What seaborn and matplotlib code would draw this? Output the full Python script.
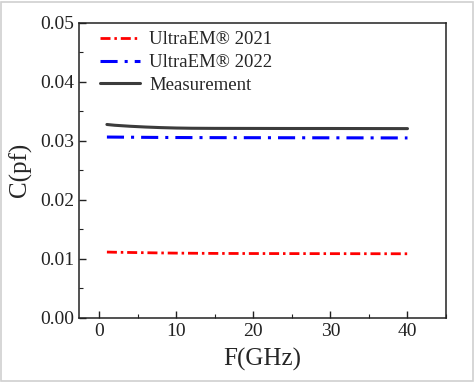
import matplotlib
matplotlib.use("Agg")
import matplotlib.pyplot as plt
from matplotlib.patches import Rectangle
from matplotlib.ticker import MultipleLocator
import pandas as pd
import seaborn as sns

# frequency points (GHz)
freq = [1, 2, 4, 6, 8, 10, 12, 15, 20, 25, 30, 35, 40]
# capacitance (pF)
ultraem_2021 = [0.01115, 0.01112, 0.01108, 0.01104, 0.01100, 0.01097, 0.01095, 0.01092,
                0.01090, 0.01089, 0.01088, 0.01087, 0.01086]
ultraem_2022 = [0.03065, 0.03064, 0.03062, 0.03060, 0.03058, 0.03057, 0.03056, 0.03055,
                0.03054, 0.03053, 0.03052, 0.03051, 0.03050]
measurement = [0.03278, 0.03265, 0.03248, 0.03235, 0.03225, 0.03218, 0.03214, 0.03212,
               0.03211, 0.03210, 0.03210, 0.03209, 0.03208]
labels = ["UltraEM® 2021", "UltraEM® 2022", "Measurement"]

sns.set_style("ticks")
plt.rcParams['font.family'] = ['Liberation Serif', 'DejaVu Serif']

fig = plt.figure(figsize=(4.74, 3.82), dpi=100)
ax = fig.add_axes([0.167, 0.168, 0.774, 0.772])

df = pd.DataFrame({"F": freq, labels[0]: ultraem_2021,
                   labels[1]: ultraem_2022, labels[2]: measurement})

sns.lineplot(data=df, x="F", y=labels[0], ax=ax, color="#ff0000", lw=2,
             linestyle=(0, (3.6, 1.4, 0.9, 1.4)), label=labels[0])
sns.lineplot(data=df, x="F", y=labels[1], ax=ax, color="#0000ff", lw=2.2,
             linestyle=(0, (5.6, 2.3, 1.0, 2.3)), label=labels[1])
sns.lineplot(data=df, x="F", y=labels[2], ax=ax, color="#3c3c3c", lw=2.2,
             linestyle="-", label=labels[2])

ax.set_xlim(-2.6, 45)
ax.set_ylim(0, 0.05)
ax.xaxis.set_major_locator(MultipleLocator(10))
ax.xaxis.set_minor_locator(MultipleLocator(5))
ax.yaxis.set_major_locator(MultipleLocator(0.01))
ax.yaxis.set_minor_locator(MultipleLocator(0.005))
ax.yaxis.set_major_formatter(plt.FuncFormatter(lambda v, p: f"{v:.2f}"))
ax.tick_params(which="both", direction="in", labelsize=14, colors="#222222")
ax.tick_params(which="major", length=5, width=1)
ax.tick_params(which="minor", length=3, width=0.8)
for s in ax.spines.values():
    s.set_linewidth(1.1)
    s.set_color("#222222")

ax.set_xlabel("F(GHz)", fontsize=18, labelpad=6)
ax.set_ylabel("C(pf)", fontsize=18, labelpad=6)

ax.legend(loc="upper left", frameon=False, fontsize=13.5, handlelength=2.15,
          handletextpad=0.5, labelspacing=0.3, borderaxespad=0.2,
          bbox_to_anchor=(0.025, 1.01))

fig.patches.append(Rectangle((0.002, 0.003), 0.995, 0.993, transform=fig.transFigure,
                             fill=False, edgecolor="#d0d0d0", lw=1.2))

fig.savefig("out.png", dpi=100)
